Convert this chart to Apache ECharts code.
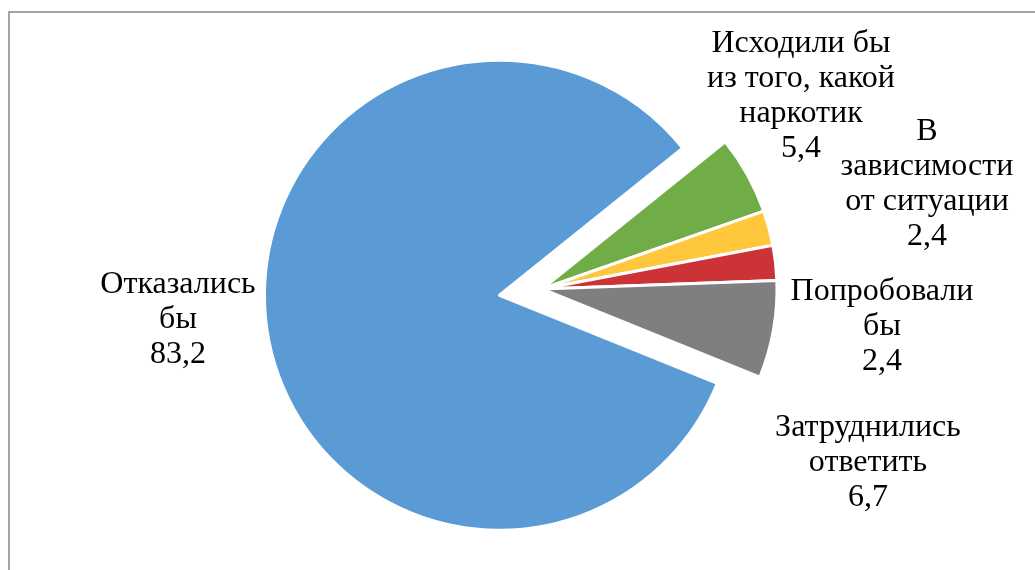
<!DOCTYPE html>
<html>
<head>
<meta charset="utf-8">
<script src="https://cdn.jsdelivr.net/npm/echarts@6/dist/echarts.min.js"></script>
<style>
    html, body { margin: 0; padding: 0; background: #fff; overflow: hidden; }
    #frame {
        position: absolute; left: 8px; top: 11px; width: 1200px; height: 700px;
        border-left: 2px solid #a3a3a3; border-top: 2px solid #a3a3a3;
    }
    #pie { position: absolute; left: 0; top: 0; width: 1035px; height: 570px; }
</style>
</head>
<body>
<div id="frame"></div>
<div id="pie"></div>
<script>
// ответы (%)
var categories = [
    'Отказались\nбы',
    'Исходили бы\nиз того, какой\nнаркотик',
    'В\nзависимости\nот ситуации',
    'Попробовали\nбы',
    'Затруднились\nответить'
];
var values = [83.2, 5.4, 2.4, 2.4, 6.7];
var colors = ['#5b9bd5', '#70ad47', '#ffc83c', '#cc3336', '#7f7f7f'];

// где стоят подписи (центр блока текста)
var labelX = [178, 801, 927, 882, 868];
var labelY = [320, 96, 184, 327, 463];

var center = [542, 289];
var startAngle = -22;
var explode = 43; // выдвинут первый сектор

// середина первого сектора -> куда его сдвигать
var total = values.reduce(function (a, b) { return a + b; }, 0);
var mid = (startAngle - values[0] / total * 180) * Math.PI / 180;
var center0 = [center[0] + explode * Math.cos(mid), center[1] - explode * Math.sin(mid)];

// shown: какие секторы видны в этой серии, остальные прозрачные
function buildData(shown) {
    return categories.map(function (name, i) {
        var on = shown.indexOf(i) >= 0;
        return {
            name: name,
            value: values[i],
            itemStyle: on ? { color: colors[i] } : { color: 'rgba(0,0,0,0)', borderWidth: 0 },
            label: { show: on }
        };
    });
}

function pieSeries(c, shown) {
    return {
        type: 'pie',
        center: c,
        radius: 235,
        startAngle: startAngle,
        clockwise: true,
        silent: true,
        itemStyle: {
            borderColor: '#fff',
            borderWidth: 3
        },
        emphasis: { disabled: true },
        label: {
            position: 'outside',
            alignTo: 'none',
            overflow: 'none',
            fontFamily: 'Liberation Serif',
            fontSize: 32,
            lineHeight: 35,
            color: '#000',
            align: 'center',
            formatter: function (p) {
                return p.name + '\n' + String(p.value).replace('.', ',');
            }
        },
        labelLine: { show: false },
        labelLayout: function (params) {
            return {
                x: labelX[params.dataIndex],
                y: labelY[params.dataIndex],
                align: 'center',
                verticalAlign: 'middle'
            };
        },
        data: buildData(shown)
    };
}

var myChart = echarts.init(document.getElementById('pie'));
myChart.setOption({
    animation: false,
    series: [
        pieSeries(center0, [0]),
        pieSeries(center, [1, 2, 3, 4])
    ]
});
</script>
</body>
</html>
